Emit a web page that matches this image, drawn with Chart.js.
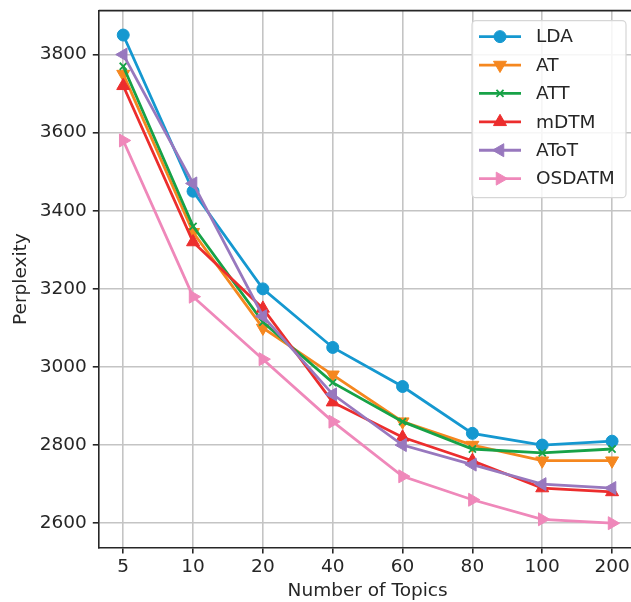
<!DOCTYPE html>
<html>
<head>
<meta charset="utf-8">
<script src="https://cdn.jsdelivr.net/npm/chart.js@4.4.1/dist/chart.umd.min.js"></script>
<style>
  html, body { margin: 0; padding: 0; background: #fff; overflow: hidden; }
  canvas { display: block; }
</style>
</head>
<body>
<canvas id="grafico" width="645" height="602"></canvas>
<script>
// Perplexidade x numero de topicos
const topicos = ['5', '10', '20', '40', '60', '80', '100', '200'];
const lda    = [3850, 3450, 3200, 3050, 2950, 2830, 2800, 2810];
const at     = [3750, 3345, 3100, 2980, 2860, 2800, 2760, 2760];
const att    = [3770, 3360, 3115, 2960, 2860, 2790, 2780, 2790];
const mdtm   = [3720, 3320, 3150, 2910, 2820, 2760, 2690, 2680];
const atot   = [3800, 3470, 3130, 2930, 2800, 2750, 2700, 2690];
const osdatm = [3580, 3180, 3020, 2860, 2720, 2660, 2610, 2600];
const yTicks = [2600, 2800, 3000, 3200, 3400, 3600, 3800];

const fonte = 'DejaVu Sans';
const corTexto = '#262626';

function pontos(valores) {
  return valores.map((v, i) => ({ x: i, y: v }));
}

function serie(label, valores, cor, estilo, rot, raio, ordem) {
  return {
    label,
    data: pontos(valores),
    borderColor: cor,
    backgroundColor: cor,
    borderWidth: 2.8,
    pointStyle: estilo,
    pointRotation: rot,
    pointRadius: raio,
    pointBorderWidth: estilo === 'crossRot' ? 1.8 : 1,
    pointHoverRadius: raio,
    order: ordem,
    tension: 0
  };
}

const datasets = [
  serie('LDA', lda, '#1598d0', 'circle', 0, 6, 5),
  serie('AT', at, '#f5871f', 'triangle', 180, 7.5, 4),
  serie('ATT', att, '#17a247', 'crossRot', 0, 5, 3),
  serie('mDTM', mdtm, '#ec2d2d', 'triangle', 0, 7.5, 2),
  serie('AToT', atot, '#9878be', 'triangle', 270, 7.5, 1),
  serie('OSDATM', osdatm, '#ef88ba', 'triangle', 90, 7.5, 0)
];

// legenda dentro do grafico (canto superior direito)
const legendaInterna = {
  id: 'legendaInterna',
  afterDraw(chart) {
    const ctx = chart.ctx;
    const area = chart.chartArea;
    const w = 154, h = 177;
    const x0 = area.right - 164.5, y0 = area.top + 10;
    ctx.save();
    ctx.beginPath();
    ctx.roundRect(x0, y0, w, h, 4);
    ctx.fillStyle = 'rgba(255,255,255,0.85)';
    ctx.fill();
    ctx.strokeStyle = '#d6d6d6';
    ctx.lineWidth = 1.2;
    ctx.stroke();
    chart.data.datasets.forEach((ds, i) => {
      const y = y0 + 16 + i * 28.4;
      ctx.beginPath();
      ctx.moveTo(x0 + 7, y);
      ctx.lineTo(x0 + 49, y);
      ctx.strokeStyle = ds.borderColor;
      ctx.lineWidth = ds.borderWidth;
      ctx.stroke();
      ctx.fillStyle = ds.backgroundColor;
      ctx.strokeStyle = ds.borderColor;
      ctx.lineWidth = ds.pointBorderWidth;
      Chart.helpers.drawPoint(ctx, {
        pointStyle: ds.pointStyle,
        rotation: ds.pointRotation,
        radius: ds.pointRadius,
        borderWidth: ds.pointBorderWidth
      }, x0 + 28, y);
      ctx.fillStyle = corTexto;
      ctx.font = '18.5px "' + fonte + '"';
      ctx.textBaseline = 'middle';
      ctx.textAlign = 'left';
      ctx.fillText(ds.label, x0 + 64, y + 1);
    });
    ctx.restore();
  }
};

// moldura superior e direita
const moldura = {
  id: 'moldura',
  afterDraw(chart) {
    const ctx = chart.ctx;
    const a = chart.chartArea;
    ctx.save();
    ctx.strokeStyle = '#262626';
    ctx.lineWidth = 1.6;
    ctx.beginPath();
    ctx.moveTo(a.left, a.top);
    ctx.lineTo(a.right, a.top);
    ctx.lineTo(a.right, a.bottom);
    ctx.stroke();
    ctx.restore();
  }
};

new Chart(document.getElementById('grafico'), {
  type: 'line',
  data: { datasets },
  options: {
    responsive: false,
    animation: false,
    layout: { padding: { left: 10, right: 6.5, top: 10, bottom: 0 } },
    plugins: {
      legend: { display: false },
      tooltip: { enabled: false }
    },
    scales: {
      x: {
        type: 'linear',
        min: -0.35,
        max: 7.35,
        afterBuildTicks: (s) => { s.ticks = topicos.map((t, i) => ({ value: i })); },
        ticks: {
          callback: (v) => topicos[v],
          color: corTexto,
          font: { family: fonte, size: 18.5 },
          padding: 2,
          maxRotation: 0,
          autoSkip: false
        },
        grid: { color: '#c4c4c4', lineWidth: 1.6, tickColor: '#262626', tickLength: 6 },
        border: { color: '#262626', width: 1.6 },
        title: {
          display: true,
          text: 'Number of Topics',
          color: corTexto,
          font: { family: fonte, size: 18.5 },
          padding: { top: 0, bottom: 0 }
        }
      },
      y: {
        min: 2537.5,
        max: 3912.5,
        afterBuildTicks: (s) => { s.ticks = yTicks.map(v => ({ value: v })); },
        ticks: {
          callback: (v) => String(v),
          color: corTexto,
          font: { family: fonte, size: 18.5, lineHeight: 0.5 },
          padding: 6
        },
        grid: { color: '#c4c4c4', lineWidth: 1.6, tickColor: '#262626', tickLength: 6 },
        border: { color: '#262626', width: 1.6 },
        title: {
          display: true,
          text: 'Perplexity',
          color: corTexto,
          font: { family: fonte, size: 18.5 },
          padding: { top: 0, bottom: 1.5 }
        }
      }
    }
  },
  plugins: [legendaInterna, moldura]
});
</script>
</body>
</html>
